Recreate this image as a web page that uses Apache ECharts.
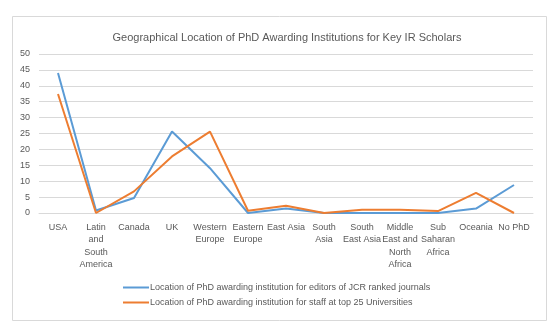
<!DOCTYPE html>
<html><head><meta charset="utf-8">
<script src="https://cdn.jsdelivr.net/npm/echarts@6/dist/echarts.min.js"></script>
<style>html,body{margin:0;padding:0;background:#fff}#c{width:551px;height:328px}</style>
</head><body><div id="c"></div>
<script>
const categories = ['USA', 'Latin\nand\nSouth\nAmerica', 'Canada', 'UK', 'Western\nEurope', 'Eastern\nEurope', 'East Asia', 'South\nAsia', 'South\nEast Asia', 'Middle\nEast and\nNorth\nAfrica', 'Sub\nSaharan\nAfrica', 'Oceania', 'No PhD'];
const editorsJCR = [44, 0.8, 4.7, 25.6, 14.1, 0, 1.4, 0, 0, 0, 0, 1.4, 8.8];
const staffTop25 = [37.4, 0, 6.8, 17.8, 25.6, 0.7, 2.3, 0, 1.0, 1.0, 0.6, 6.3, 0];
const seriesNames = ['Location of PhD awarding institution for editors of JCR ranked journals', 'Location of PhD awarding institution for staff at top 25 Universities'];
const yTicks = {min: 0, max: 50, interval: 5};

const chart = echarts.init(document.getElementById('c'), null, {renderer: 'canvas'});
const font = 'Liberation Sans';
chart.setOption({
  animation: false,
  backgroundColor: '#fff',
  title: {
    text: 'Geographical Location of PhD Awarding Institutions for Key IR Scholars',
    left: 282, top: 27, textAlign: 'center',
    textStyle: {fontFamily: font, fontSize: 11, fontWeight: 'normal', color: '#595959'}
  },
  graphic: [{type: 'rect', shape: {x: 12.5, y: 16.5, width: 534, height: 304}, style: {fill: 'none', stroke: '#d9d9d9', lineWidth: 1}, silent: true}],
  grid: {left: 39, right: 18, top: 54, bottom: 115, containLabel: false},
  legend: {
    orient: 'vertical', left: 118, top: 278, itemWidth: 26, itemHeight: 10, itemGap: 6,
    icon: 'path://M0,4L26,4L26,6L0,6Z',
    textStyle: {fontFamily: font, fontSize: 9, color: '#595959', padding: [0, 0, 0, -4]},
    data: seriesNames
  },
  xAxis: {
    type: 'category', data: categories, boundaryGap: true,
    axisLine: {show: true, lineStyle: {color: '#d9d9d9'}},
    axisTick: {show: false},
    axisLabel: {interval: 0, fontFamily: font, fontSize: 9, color: '#595959', lineHeight: 12.5, margin: 8}
  },
  yAxis: {
    type: 'value', min: yTicks.min, max: yTicks.max, interval: yTicks.interval,
    axisLine: {show: false}, axisTick: {show: false},
    splitLine: {lineStyle: {color: '#d9d9d9'}},
    axisLabel: {fontFamily: font, fontSize: 9, color: '#595959', margin: 9}
  },
  series: [
    {name: seriesNames[0], type: 'line', data: editorsJCR, showSymbol: false, symbol: 'none', lineStyle: {color: '#5b9bd5', width: 2}, itemStyle: {color: '#5b9bd5'}},
    {name: seriesNames[1], type: 'line', data: staffTop25, showSymbol: false, symbol: 'none', lineStyle: {color: '#ed7d31', width: 2}, itemStyle: {color: '#ed7d31'}}
  ]
});
</script></body></html>
